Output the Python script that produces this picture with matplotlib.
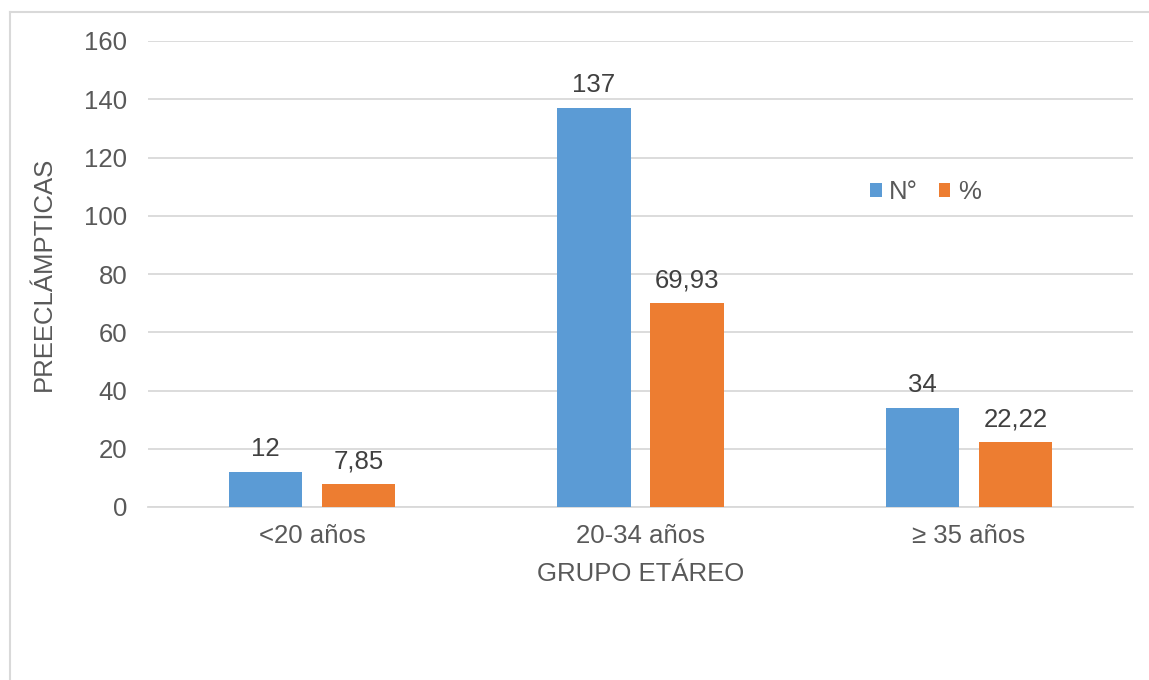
import matplotlib
matplotlib.use("Agg")
import matplotlib.pyplot as plt
import numpy as np
from matplotlib.lines import Line2D

plt.rcParams['font.family'] = ['Liberation Sans', 'DejaVu Sans']

categories = ['<20 años', '20-34 años', '≥ 35 años']
counts = [12, 137, 34]
percents = [7.85, 69.93, 22.22]
count_labels = ['12', '137', '34']
percent_labels = ['7,85', '69,93', '22,22']
series_names = ['N°', '%']

blue = '#5B9BD5'
orange = '#ED7D31'
text_color = '#595959'
grid_color = '#D9D9D9'
fs = 18.5

fig = plt.figure(figsize=(11.49, 6.8), dpi=100)
ax = fig.add_axes([148/1149, 1 - 507/680, (1133-148)/1149, (507-41)/680])

x = np.arange(len(categories))
w = 0.2225
off = 0.1416
b1 = ax.bar(x - off, counts, w, color=blue, label=series_names[0], zorder=3)
b2 = ax.bar(x + off, percents, w, color=orange, label=series_names[1], zorder=3)

for rect, lab in zip(b1, count_labels):
    ax.annotate(lab, (rect.get_x() + rect.get_width()/2, rect.get_height()),
                xytext=(0, 8), textcoords='offset points', ha='center', va='bottom',
                fontsize=fs, color='#404040')
for rect, lab in zip(b2, percent_labels):
    ax.annotate(lab, (rect.get_x() + rect.get_width()/2, rect.get_height()),
                xytext=(0, 8), textcoords='offset points', ha='center', va='bottom',
                fontsize=fs, color='#404040')

ax.set_xlim(-0.5, 2.5)
ax.set_ylim(0, 160)
ax.set_yticks(range(0, 161, 20))
ax.yaxis.grid(True, color=grid_color, linewidth=1.3, zorder=0)
ax.set_axisbelow(True)
for s in ['top', 'right', 'left']:
    ax.spines[s].set_visible(False)
ax.spines['bottom'].set_color(grid_color)
ax.spines['bottom'].set_linewidth(1.3)
ax.tick_params(axis='both', length=0, labelsize=fs, labelcolor=text_color)
ax.tick_params(axis='y', pad=15)
ax.tick_params(axis='x', pad=12)
ax.set_xticks(x)
ax.set_xticklabels(categories)
ax.set_xlabel('GRUPO ETÁREO', fontsize=fs, color=text_color, labelpad=10)
ax.set_ylabel('PREECLÁMPTICAS', fontsize=fs, color=text_color, labelpad=20)

leg = ax.legend(loc='center left', bbox_to_anchor=(0.733, 0.676), ncol=2, frameon=False,
                fontsize=fs, handlelength=0.45, handleheight=0.45, handletextpad=0.3,
                columnspacing=0.8, labelcolor=text_color, borderpad=0, borderaxespad=0)

# outer chart frame (left and top edges visible)
fig.add_artist(Line2D([10/1149, 10/1149], [0, 1 - 12/680], transform=fig.transFigure,
                      color='#D9D9D9', linewidth=1.5))
fig.add_artist(Line2D([10/1149, 1], [1 - 12/680, 1 - 12/680], transform=fig.transFigure,
                      color='#D9D9D9', linewidth=1.5))

fig.savefig('out.png', dpi=100, facecolor='white')
